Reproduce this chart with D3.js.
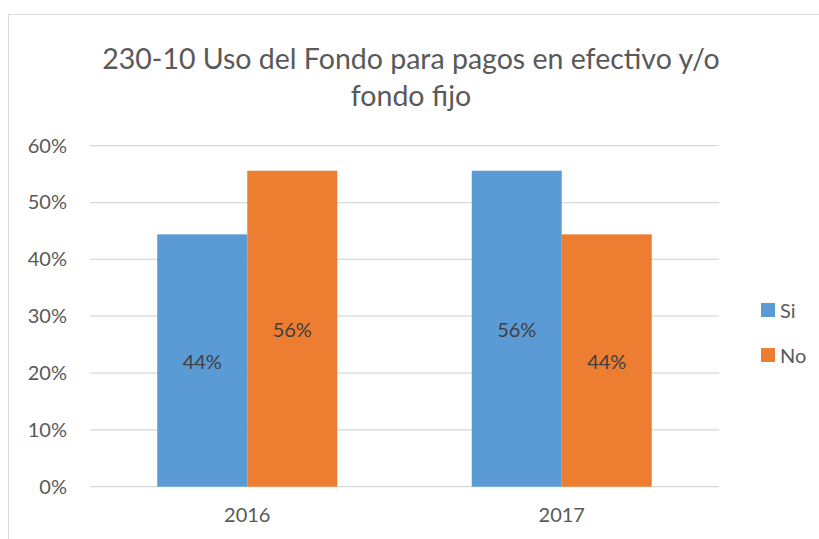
<!DOCTYPE html>
<html>
<head>
<meta charset="utf-8">
<script src="https://cdn.jsdelivr.net/npm/d3@7"></script>
<style>
  body { margin: 0; background: #fff; }
  svg { font-family: Lato, "Open Sans", sans-serif; }
</style>
</head>
<body>
<svg width="819" height="539"></svg>
<script>
var years = ['2016', '2017']
var seriesNames = ['Si', 'No']
var siValues = [0.444, 0.556]
var noValues = [0.556, 0.444]
var yTicks = [0, 0.1, 0.2, 0.3, 0.4, 0.5, 0.6]
var colors = ['#5B9BD5', '#ED7D31']
var titleLines = ['230-10 Uso del Fondo para pagos en efectivo y/o', 'fondo fijo']

var rows = years.map(function(y, i) {
    return { year: y, Si: siValues[i], No: noValues[i] }
})

var svg = d3.select('svg')

// marco del grafico
svg.append('rect')
    .attr('x', 8.5).attr('y', 14.5)
    .attr('width', 830).attr('height', 560)
    .attr('fill', 'none')
    .attr('stroke', '#D9D9D9')

svg.selectAll('.title')
    .data(titleLines)
    .enter()
    .append('text')
    .attr('x', 411)
    .attr('y', function(d, i) { return 69 + i * 37 })
    .attr('text-anchor', 'middle')
    .attr('font-size', 28.5)
    .attr('fill', '#595959')
    .text(function(d) { return d })

var mapX = d3.scaleBand()
    .domain(years)
    .range([90, 719])

var mapSeries = d3.scaleBand()
    .domain(seriesNames)
    .range([0, 180])

var mapY = d3.scaleLinear()
    .domain([0, 0.6])
    .range([486.7, 145.7])

// griglia
svg.append('g')
    .selectAll('line')
    .data(yTicks)
    .enter()
    .append('line')
    .attr('x1', 90).attr('x2', 719)
    .attr('y1', function(d) { return mapY(d) })
    .attr('y2', function(d) { return mapY(d) })
    .attr('stroke', '#D9D9D9')
    .attr('stroke-width', 1.3)

var yAxis = d3.axisLeft(mapY)
    .tickValues(yTicks)
    .tickFormat(d3.format('.0%'))
    .tickSize(0)
    .tickPadding(0)

var gy = svg.append('g')
    .attr('transform', 'translate(67,0)')
    .call(yAxis)
gy.select('.domain').remove()
gy.selectAll('text')
    .attr('font-size', 20)
    .attr('font-family', 'Lato, "Open Sans", sans-serif')
    .attr('fill', '#595959')

var xAxis = d3.axisBottom(mapX).tickSize(0).tickPadding(0)
var gx = svg.append('g')
    .attr('transform', 'translate(0,508)')
    .call(xAxis)
gx.select('.domain').remove()
gx.selectAll('text')
    .attr('font-size', 20)
    .attr('font-family', 'Lato, "Open Sans", sans-serif')
    .attr('fill', '#595959')

var groups = svg.selectAll('.group')
    .data(rows)
    .enter()
    .append('g')
    .attr('transform', function(d) {
        return 'translate(' + (mapX(d.year) + mapX.bandwidth() / 2 - 90) + ',0)'
    })

var bars = groups.selectAll('g')
    .data(function(d) {
        return seriesNames.map(function(s, i) { return { key: s, value: d[s], color: colors[i] } })
    })
    .enter()
    .append('g')

bars.append('rect')
    .attr('x', function(d) { return mapSeries(d.key) })
    .attr('width', mapSeries.bandwidth())
    .attr('y', function(d) { return mapY(d.value) })
    .attr('height', function(d) { return mapY(0) - mapY(d.value) })
    .attr('fill', function(d) { return d.color })

bars.append('text')
    .attr('x', function(d) { return mapSeries(d.key) + mapSeries.bandwidth() / 2 })
    .attr('y', function(d) { return (mapY(d.value) + mapY(0)) / 2 + 8 })
    .attr('text-anchor', 'middle')
    .attr('font-size', 20)
    .attr('fill', '#404040')
    .text(function(d) { return d3.format('.0%')(d.value) })

// legenda
var legend = svg.selectAll('.legend')
    .data(seriesNames)
    .enter()
    .append('g')
    .attr('transform', function(d, i) { return 'translate(761,' + (303 + i * 45) + ')' })

legend.append('rect')
    .attr('width', 14).attr('height', 14)
    .attr('fill', function(d, i) { return colors[i] })

legend.append('text')
    .attr('x', 19).attr('y', 15)
    .attr('font-size', 20)
    .attr('fill', '#595959')
    .text(function(d) { return d })
</script>
</body>
</html>
